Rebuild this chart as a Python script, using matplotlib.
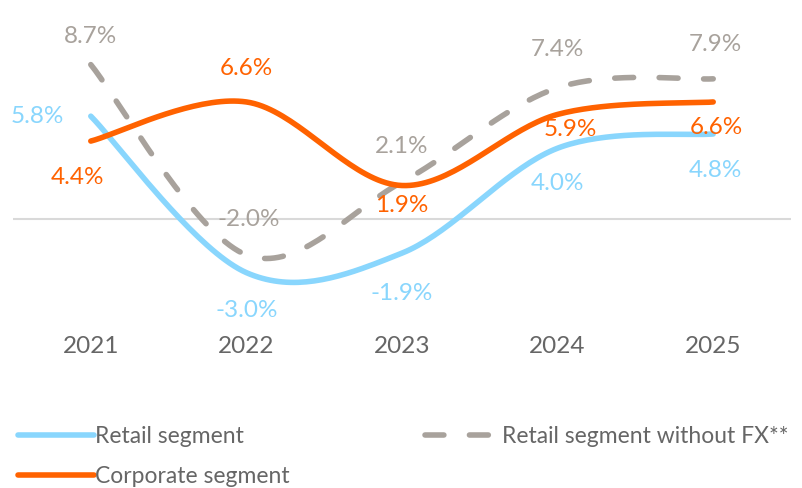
import numpy as np
import matplotlib
matplotlib.use("Agg")
import matplotlib.pyplot as plt

years = ["2021", "2022", "2023", "2024", "2025"]
retail = [5.8, -3.0, -1.9, 4.0, 4.8]
corporate = [4.4, 6.6, 1.9, 5.9, 6.6]
retail_nofx = [8.7, -2.0, 2.1, 7.4, 7.9]

names = ["Retail segment", "Corporate segment", "Retail segment without FX**"]
colors = ["#89D6FD", "#FF6200", "#A8A29C"]

# label offsets in pixels (dx, dy) for each series, per point
off_retail = [(-53, 0), (0, -38), (0, -40), (0, -35), (2, -37)]
off_corp = [(-13, -36), (0, 33), (0, -20), (13, -15), (3, -26)]
off_nofx = [(0, 28), (2, 35), (0, 35), (0, 38), (2, 34)]

plt.rcParams['font.family'] = ['Lato', 'DejaVu Sans']

def smooth(vals, n=40):
    # Excel-like Catmull-Rom Bezier smoothing
    y = np.asarray(vals, float)
    x = np.arange(len(y), dtype=float)
    P = np.column_stack([x, y])
    ext = np.vstack([P[0], P, P[-1]])
    xs, ys = [], []
    t = np.linspace(0, 1, n)[:, None]
    for i in range(len(P) - 1):
        p0 = ext[i + 1]; p3 = ext[i + 2]
        c1 = p0 + (ext[i + 2] - ext[i]) / 6.0
        c2 = p3 - (ext[i + 3] - ext[i + 1]) / 6.0
        B = (1 - t) ** 3 * p0 + 3 * (1 - t) ** 2 * t * c1 + 3 * (1 - t) * t ** 2 * c2 + t ** 3 * p3
        xs.append(B[:, 0]); ys.append(B[:, 1])
    return np.concatenate(xs), np.concatenate(ys)

fig = plt.figure(figsize=(8.03, 4.88), dpi=100)
ax = fig.add_axes([13 / 803, (488 - 326) / 488, (791 - 13) / 803, (326 - 41.5) / 488])
ax.set_xlim(-0.5, 4.5)
ax.set_ylim(-6, 10)
ax.axhline(0, color="#D9D9D9", lw=1.5, zorder=1)

lw = 4.0
sx, sy = smooth(retail)
h1, = ax.plot(sx, sy, color=colors[0], lw=lw, solid_capstyle='round', zorder=3)
sx, sy = smooth(retail_nofx)
h3, = ax.plot(sx, sy, color=colors[2], lw=lw, dash_capstyle='round', dashes=(3.4, 4.6), zorder=2)
sx, sy = smooth(corporate)
h2, = ax.plot(sx, sy, color=colors[1], lw=lw, solid_capstyle='round', zorder=4)

fs = 17.5
for vals, offs, c in [(retail, off_retail, colors[0]), (corporate, off_corp, colors[1]),
                      (retail_nofx, off_nofx, colors[2])]:
    for i, v in enumerate(vals):
        dx, dy = offs[i]
        ax.annotate(f"{v:.1f}%", (i, v), xytext=(dx * 0.72, dy * 0.72), textcoords='offset points',
                    ha='center', va='center', color=c, fontsize=fs, annotation_clip=False, zorder=5)

for i, yr in enumerate(years):
    ax.text(i, -7.15, yr, ha='center', va='center', color="#666666", fontsize=fs,
            transform=ax.transData, clip_on=False)

ax.set_xticks([]); ax.set_yticks([])
for s in ax.spines.values():
    s.set_visible(False)

lfs = 16.5
common = dict(loc='upper left', frameon=False, fontsize=lfs, handlelength=3.3, handletextpad=0.08,
              labelspacing=0.85, borderaxespad=0, borderpad=0)
leg1 = fig.legend([h1, h2], names[:2], bbox_to_anchor=(18 / 803, 1 - 426 / 488), **common)
leg2 = fig.legend([h3], names[2:], bbox_to_anchor=(425 / 803, 1 - 426 / 488), **common)
for lg in (leg1, leg2):
    for t in lg.get_texts():
        t.set_color("#666666")

fig.savefig("out.png", dpi=100)
